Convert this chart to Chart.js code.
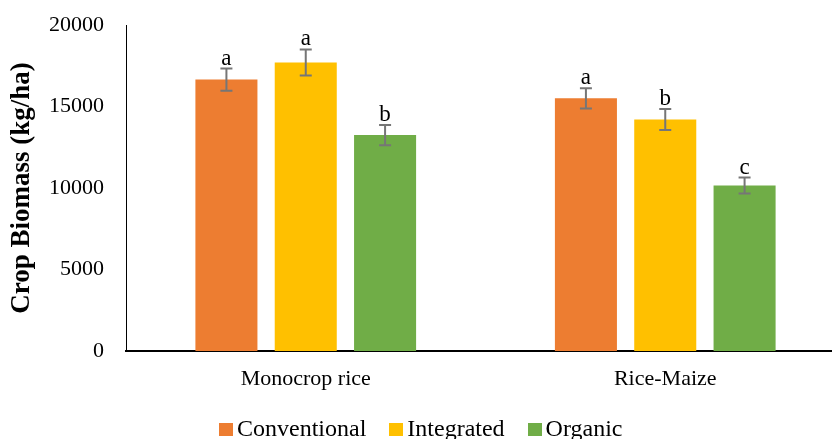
<!DOCTYPE html>
<html>
<head>
<meta charset="utf-8">
<script src="https://cdn.jsdelivr.net/npm/chart.js@4/dist/chart.umd.min.js"></script>
<style>
  html, body { margin: 0; padding: 0; background: #fff; overflow: hidden; }
  #wrap { position: relative; width: 846px; height: 439px; }
  #chart { position: absolute; left: 0; top: 0; }
  #legend {
    position: absolute; left: 219px; top: 416px;
    font-family: "Liberation Serif", "Times New Roman", serif;
    font-size: 24px; line-height: 24px; color: #000; white-space: nowrap;
  }
  #legend .item { display: inline-block; margin-right: 23px; }
  #legend .swatch { display: inline-block; width: 14px; height: 13px; margin-right: 4px; vertical-align: baseline; }
</style>
</head>
<body>
<div id="wrap">
  <canvas id="chart" width="846" height="439"></canvas>
  <div id="legend"></div>
</div>
<script>
// Crop biomass by cropping system and management
const categories = ['Monocrop rice', 'Rice-Maize'];
const seriesNames = ['Conventional', 'Integrated', 'Organic'];
const conventional = [16650, 15500];
const integrated   = [17700, 14200];
const organic      = [13250, 10150];
const conventionalErr = [680, 620];
const integratedErr   = [800, 640];
const organicErr      = [620, 490];
const conventionalLetters = ['a', 'a'];
const integratedLetters   = ['a', 'b'];
const organicLetters      = ['b', 'c'];
const yTicks = [0, 5000, 10000, 15000, 20000];

const colors = ['#ED7D31', '#FFC000', '#70AD47'];
const SERIF = '"Liberation Serif", "Times New Roman", serif';

const values  = [conventional, integrated, organic];
const errors  = [conventionalErr, integratedErr, organicErr];
const letters = [conventionalLetters, integratedLetters, organicLetters];

// Error bars with significance letters, placed through the value scale
const errorBars = {
  id: 'errorBars',
  afterDatasetsDraw(chart) {
    const ctx = chart.ctx;
    const y = chart.scales.y;
    chart.data.datasets.forEach((ds, di) => {
      const meta = chart.getDatasetMeta(di);
      meta.data.forEach((bar, i) => {
        const v = ds.data[i];
        const e = ds.errors[i];
        const yTop = y.getPixelForValue(v + e);
        const yBot = y.getPixelForValue(v - e);
        const x = bar.x;
        ctx.save();
        ctx.strokeStyle = '#767676';
        ctx.lineWidth = 2;
        ctx.beginPath();
        ctx.moveTo(x, yTop); ctx.lineTo(x, yBot);
        ctx.moveTo(x - 6, yTop); ctx.lineTo(x + 6, yTop);
        ctx.moveTo(x - 6, yBot); ctx.lineTo(x + 6, yBot);
        ctx.stroke();
        ctx.fillStyle = '#000';
        ctx.font = '23px ' + SERIF;
        ctx.textAlign = 'center';
        ctx.textBaseline = 'alphabetic';
        ctx.fillText(ds.letters[i], x, yTop - 4);
        ctx.restore();
      });
    });
  }
};

const chart = new Chart(document.getElementById('chart'), {
  type: 'bar',
  data: {
    labels: categories,
    datasets: seriesNames.map((name, k) => ({
      label: name,
      data: values[k],
      errors: errors[k],
      letters: letters[k],
      backgroundColor: colors[k],
      borderWidth: 0,
      categoryPercentage: 0.662,
      barPercentage: 0.782
    }))
  },
  options: {
    responsive: false,
    animation: false,
    devicePixelRatio: 1,
    layout: { padding: { top: 25, right: 1, bottom: 44, left: 0 } },
    plugins: { legend: { display: false }, tooltip: { enabled: false } },
    scales: {
      x: {
        grid: { display: false, drawTicks: false },
        border: { color: '#000', width: 2 },
        ticks: { color: '#000', font: { family: SERIF, size: 22 }, padding: 15 },
        afterFit(s) { s.height = 44; s.paddingLeft = 0; s.paddingRight = 0; }
      },
      y: {
        min: 0, max: 20000,
        afterBuildTicks(s) { s.ticks = yTicks.map(v => ({ value: v })); },
        grid: { display: false, drawTicks: false },
        border: { color: '#000', width: 1 },
        ticks: {
          color: '#000', font: { family: SERIF, size: 22 }, padding: 22,
          callback: v => String(v)
        },
        title: {
          display: true,
          text: 'Crop Biomass (kg/ha)',
          color: '#000',
          font: { family: SERIF, size: 27, weight: 'bold' },
          padding: { top: 6, bottom: 0 }
        },
        afterFit(s) { s.width = 126; s.paddingTop = 0; s.paddingBottom = 0; }
      }
    }
  },
  plugins: [errorBars]
});

// Legend row
const legend = document.getElementById('legend');
seriesNames.forEach((name, k) => {
  const item = document.createElement('span');
  item.className = 'item';
  const sw = document.createElement('span');
  sw.className = 'swatch';
  sw.style.background = colors[k];
  item.appendChild(sw);
  item.appendChild(document.createTextNode(name));
  legend.appendChild(item);
});
</script>
</body>
</html>
